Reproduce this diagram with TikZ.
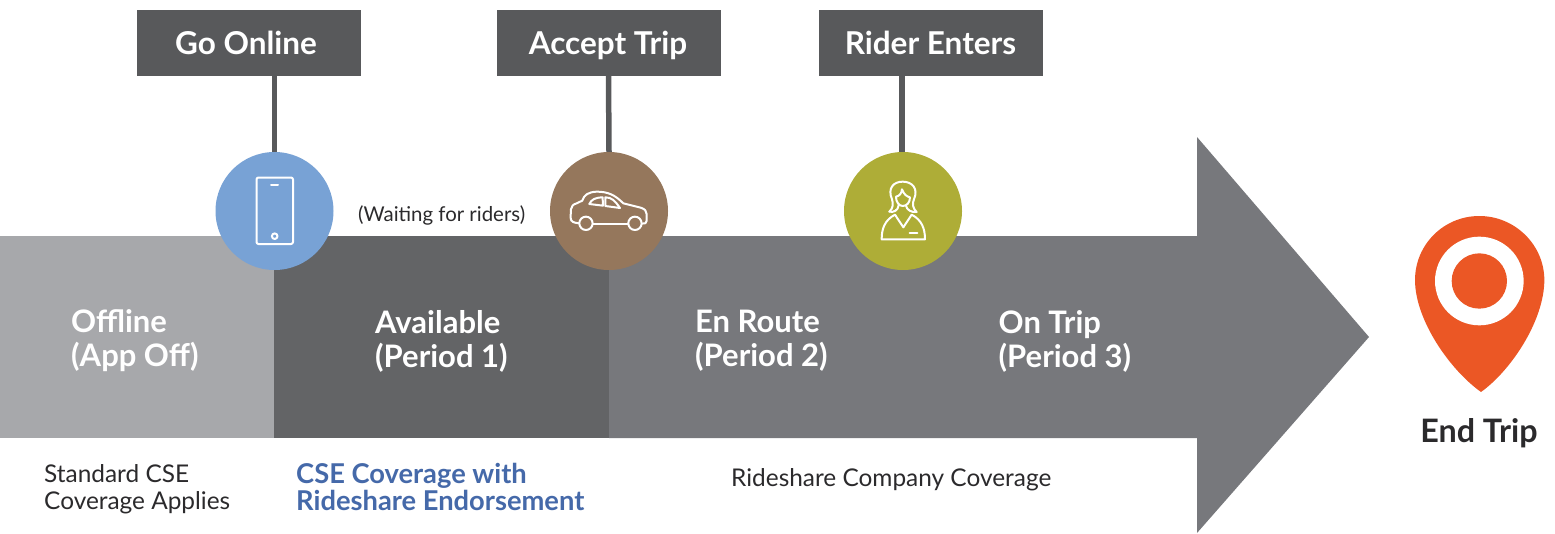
\documentclass[tikz,border=0pt]{standalone}
\usepackage{fontspec}
\setmainfont{Lato}
\definecolor{boxgrey}{HTML}{58595B}
\definecolor{offgrey}{HTML}{A7A8AB}
\definecolor{availgrey}{HTML}{636466}
\definecolor{arrowgrey}{HTML}{77787C}
\definecolor{phoneblue}{HTML}{78A2D5}
\definecolor{carbrown}{HTML}{95775C}
\definecolor{riderolive}{HTML}{AEAD37}
\definecolor{pinorange}{HTML}{EB5725}
\definecolor{endblue}{HTML}{4569A9}
\definecolor{inkdark}{HTML}{2B2A2C}
\tikzset{
  eventbox/.style={fill=boxgrey,text=white,minimum width=224pt,minimum height=66pt,inner sep=0pt,text height=26pt,text depth=4pt,font=\fontsize{31.5}{34}\selectfont\bfseries},
  stem/.style={draw=boxgrey,line width=5.5pt},
  disc/.style={circle,minimum size=118pt,inner sep=0pt},
  phaselabel/.style={text=white,anchor=west,align=left,inner sep=0pt,font=\fontsize{31}{34}\selectfont\bfseries},
  notelabel/.style={text=inkdark,anchor=west,align=left,inner sep=0pt,font=\fontsize{24.4}{26.5}\selectfont},
  icon/.style={draw=white,line width=2pt,line join=round,line cap=round}
}
\begin{document}
\begin{tikzpicture}[x=1pt,y=-1pt]
\useasboundingbox (0,0) rectangle (1555,533);
% bands
\fill[offgrey] (0,236) rectangle (274,438);
\fill[availgrey] (274,236) rectangle (609,438);
\fill[arrowgrey] (609,236) -- (1197,236) -- (1197,137) -- (1369,337) -- (1197,533) -- (1197,438) -- (609,438) -- cycle;
% events
\node[eventbox] (goonline) at (249,43) {\hspace*{-6pt}Go Online};
\node[eventbox] (accept) at (609,43) {\hspace*{-2pt}Accept Trip};
\node[eventbox] (enters) at (931,43) {\hspace*{-1pt}Rider Enters};
\node[disc,fill=phoneblue] (phone) at (274.5,211) {};
\node[disc,fill=carbrown] (car) at (609,211) {};
\node[disc,fill=riderolive] (rider) at (903,211) {};
\coordinate (s1) at (274.5,76);
\coordinate (s2) at (608.5,76);
\coordinate (s3) at (902,76);
\draw[stem] (s1) -- (phone.north);
\draw[stem] (s2) -- (car.north);
\draw[stem] (s3) -- (s3 |- rider.north);
% phone icon
\draw[icon,rounded corners=2pt] (256.5,177.5) rectangle (293,244);
\draw[icon] (271,184.5) -- (278,184.5);
\draw[icon] (274.7,236.2) circle (2.8);
% car icon
\begin{scope}[shift={(200,140)},x=.3333pt,y=-.3333pt]
\draw[icon] (1137,250) -- (1125,248) .. controls (1114,245) and (1112,240) .. (1112,230) -- (1113,208) .. controls (1114,198) and (1120,193) .. (1130,190) -- (1147,182) .. controls (1152,165) and (1165,156) .. (1190,155) .. controls (1225,155) and (1245,165) .. (1270,190) -- (1322,203) .. controls (1335,207) and (1340,213) .. (1340,222) -- (1340,243) .. controls (1340,250) and (1335,251) .. (1326,251);
\draw[icon] (1180,251) -- (1284,251);
\draw[icon] (1158,250) circle (20);
\draw[icon] (1305,250) circle (20);
\draw[icon] (1168,192) .. controls (1175,178) and (1185,173) .. (1208,172) -- (1209,197) -- cycle;
\draw[icon] (1216,172) .. controls (1235,172) and (1245,182) .. (1260,204) -- (1216,198) -- cycle;
\end{scope}
% rider icon
\begin{scope}[shift={(830,140)},x=.3333pt,y=-.3333pt]
\draw[icon] (178,215) .. controls (190,205) and (190,190) .. (186,178) .. controls (172,145) and (190,125) .. (218,125) .. controls (246,125) and (266,145) .. (252,178) .. controls (246,190) and (248,205) .. (260,216) .. controls (245,218) and (230,210) .. (228,197);
\draw[icon] (178,215) .. controls (190,218) and (204,212) .. (206,196);
\draw[icon] (198,170) .. controls (210,168) and (215,158) .. (216,148) .. controls (222,165) and (232,170) .. (240,172) .. controls (240,188) and (230,198) .. (218,198) .. controls (206,198) and (198,185) .. (198,170);
\draw[icon] (155,298) -- (285,298) .. controls (285,265) and (275,240) .. (245,224) -- (220,262) -- (195,224) .. controls (165,240) and (155,265) .. (155,298) -- cycle;
\draw[icon] (239,280) -- (262,280);
\end{scope}
% pin
\begin{scope}[shift={(1400,200)},x=.3333pt,y=-.3333pt]
\fill[pinorange] (243,576) .. controls (150,510) and (45,360) .. (45,240) .. controls (45,135) and (130,48) .. (238,48) .. controls (345,48) and (433,135) .. (433,240) .. controls (433,360) and (335,510) .. (243,576) -- cycle;
\fill[white] (238,243) circle (133);
\fill[pinorange] (238,243) circle (83);
\end{scope}
% labels
\node[phaselabel] (offline) at (71,341) {Offline\\(App Off)};
\node[phaselabel] (avail) at (375,341) {Available\\(Period 1)};
\node[phaselabel] (route) at (695,341) {En Route\\(Period 2)};
\node[phaselabel] (ontrip) at (998.5,341) {On Trip\\(Period 3)};
\node[notelabel,font=\fontsize{20.4}{24}\selectfont] (waiting) at (358,215) {(Waiting for riders)};
\node[notelabel] (standard) at (44,489) {Standard CSE\\Coverage Applies};
\node[notelabel,text=endblue,font=\fontsize{27.3}{27}\selectfont\bfseries] (endorse) at (296,487) {CSE Coverage with\\Rideshare Endorsement};
\node[notelabel] (company) at (731,480) {Rideshare Company Coverage};
\node[text=inkdark,inner sep=0pt,font=\fontsize{32.3}{34}\selectfont\bfseries] (endtrip) at (1479,433) {End Trip};
\end{tikzpicture}
\end{document}
